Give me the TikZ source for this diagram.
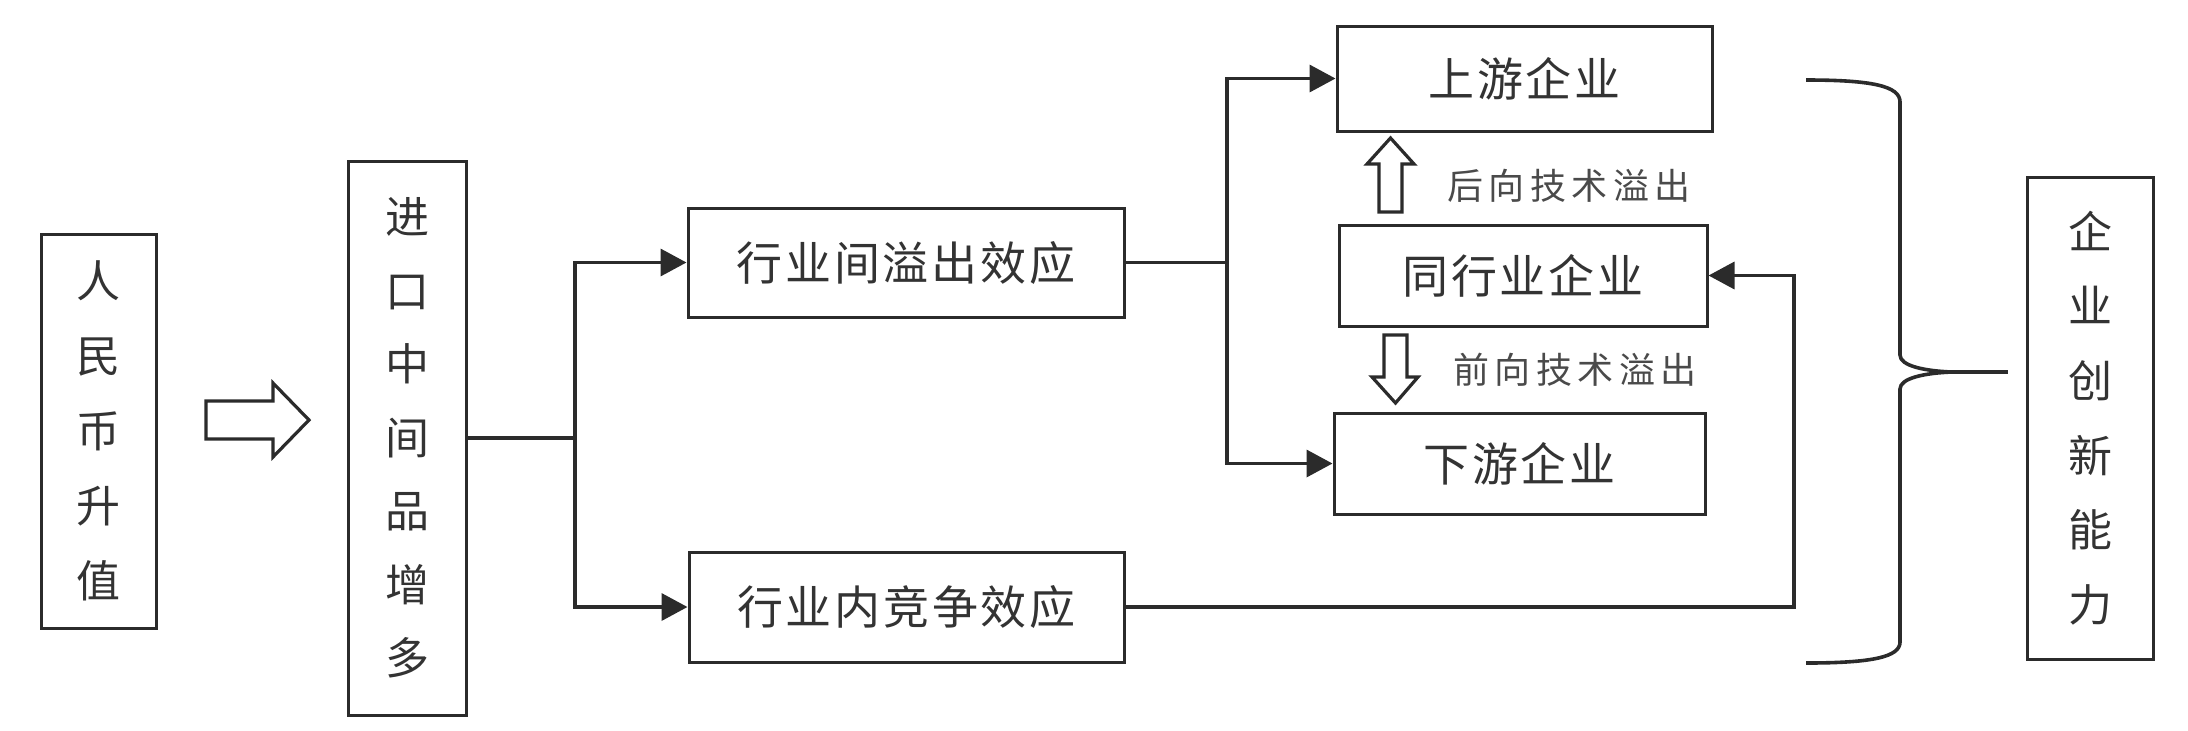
\documentclass[tikz,border=0pt]{standalone}
\usepackage{fontspec}
\newfontfamily\cjk{Noto Sans CJK SC}
\usetikzlibrary{arrows.meta}
\definecolor{ln}{HTML}{2B2B2B}
\definecolor{tx}{HTML}{333333}
\definecolor{lb}{HTML}{4A4A4A}
\begin{document}
\begin{tikzpicture}[x=0.5pt,y=-0.5pt,
 box/.style={draw=ln,line width=1.5pt,inner sep=0pt,text=tx,font=\cjk\fontsize{23}{28}\selectfont\addfontfeature{LetterSpace=6}},
 vbox/.style={box,align=center,font=\cjk\fontsize{22}{37.5}\selectfont},
 conn/.style={draw=ln,line width=1.8pt},
 arr/.style={conn,-{Triangle[length=13pt,width=13.5pt]}},
 hollow/.style={draw=ln,line width=1.6pt,fill=white,line join=miter},
 lab/.style={text=lb,inner sep=0pt,font=\cjk\fontsize{18}{20}\selectfont\addfontfeature{LetterSpace=15}}
]
\useasboundingbox (0,0) rectangle (2188,730);
% boxes
\node[vbox,minimum width=57.5pt,minimum height=197pt] (A) at (98.5,431) {人\\民\\币\\升\\值};
\node[vbox,minimum width=59pt,minimum height=277pt,font=\cjk\fontsize{22}{36.75}\selectfont] (B) at (407,438) {进\\口\\中\\间\\品\\增\\多};
\node[box,minimum width=218pt,minimum height=54.5pt] (C) at (906,262.5) {行业间溢出效应};
\node[box,minimum width=217.5pt,minimum height=55pt] (D) at (906.5,607) {行业内竞争效应};
\node[box,minimum width=187.5pt,minimum height=52.5pt] (E) at (1524.5,78.5) {上游企业};
\node[box,minimum width=184pt,minimum height=50.5pt] (F) at (1523,275.5) {同行业企业};
\node[box,minimum width=185.5pt,minimum height=50.5pt] (G) at (1519.5,463.5) {下游企业};
\node[vbox,minimum width=63pt,minimum height=241pt,font=\cjk\fontsize{22}{37.3}\selectfont] (H) at (2090,418) {企\\业\\创\\新\\能\\力};
% labels
\node[lab] (L1) at (1569,186) {后向技术溢出};
\node[lab] (L2) at (1575,370) {前向技术溢出};
% block arrows
\draw[hollow] (206,401) -- (273,401) -- (273,383) -- (309,420) -- (273,457) -- (273,439) -- (206,439) -- cycle;
\draw[hollow] (1379,212) -- (1379,164) -- (1367,164) -- (1390.5,138) -- (1414,164) -- (1402,164) -- (1402,212) -- cycle;
\draw[hollow] (1384,335) -- (1407,335) -- (1407,377) -- (1418,377) -- (1395.5,403) -- (1372,377) -- (1384,377) -- cycle;
% connectors
\coordinate (j1) at (575,438);
\draw[conn] (B.east) -- (j1);
\draw[arr] (j1) |- (C.west);
\draw[arr] (j1) |- (D.west);
\coordinate (j2) at (1227,262.5);
\draw[conn] (C.east) -- (j2);
\draw[arr] (j2) |- (E.west);
\draw[arr] (j2) |- (G.west);
\coordinate (fb) at (1794,607);
\draw[arr] (D.east) -- (fb) |- (F.east);
% brace
\coordinate (bt) at (1806,80);
\coordinate (bb) at (1806,663);
\coordinate (tip) at (1952,372);
\coordinate (te) at (2008,372);
\draw[conn] (bt) .. controls (1872,80) and (1900,86) .. (1900,102) -- (1900,355)
  .. controls (1900,366) and (1925,371) .. (tip)
  .. controls (1925,373) and (1900,378) .. (1900,389) -- (1900,642)
  .. controls (1900,657) and (1872,663) .. (bb);
\draw[conn] (tip) -- (te);
\end{tikzpicture}
\end{document}
